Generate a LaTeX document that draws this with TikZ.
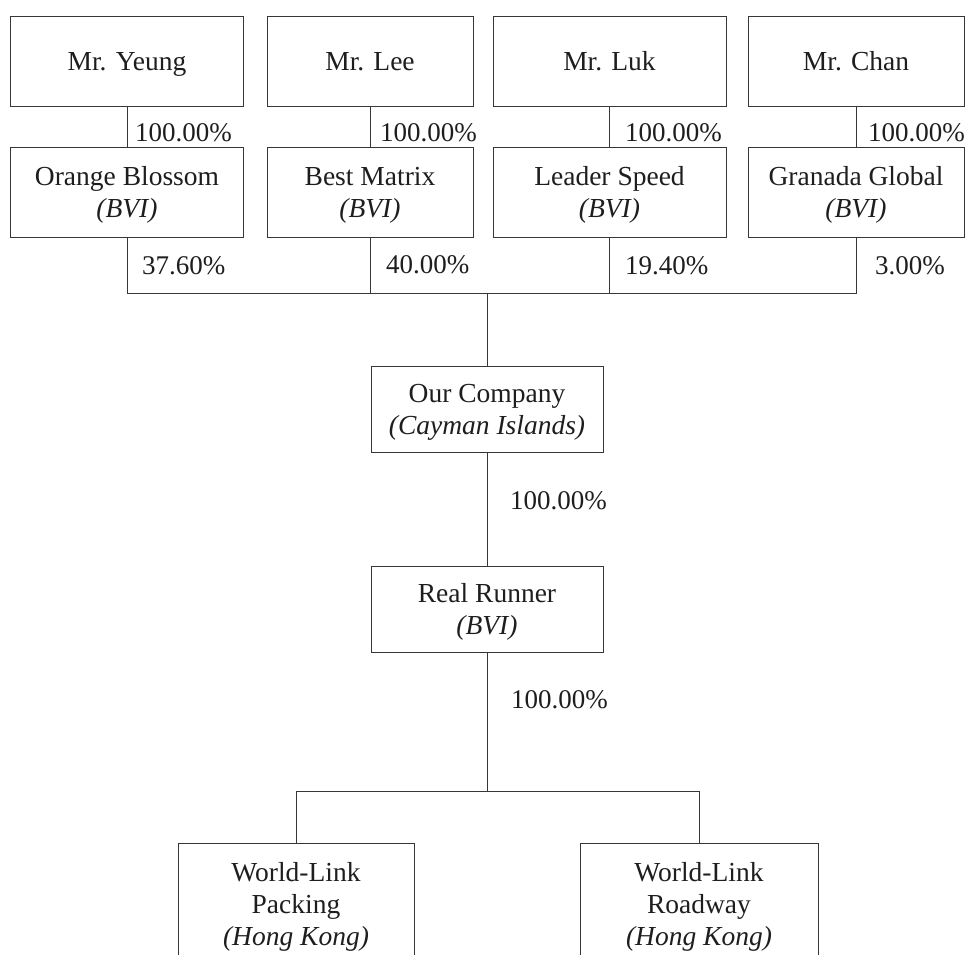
\documentclass[tikz,border=0pt]{standalone}
\usepackage{fontspec}
\setmainfont{Liberation Serif}
\definecolor{linec}{RGB}{55,55,55}
\definecolor{textc}{RGB}{30,30,30}
\tikzset{
  box/.style={draw=linec, line width=1bp, fill=white, inner sep=0pt, align=center,
    text=textc, text depth=0pt, font=\fontsize{27.5bp}{32bp}\selectfont},
  pct/.style={anchor=west, inner sep=0pt, text=textc, font=\fontsize{27bp}{32bp}\selectfont},
  conn/.style={draw=linec, line width=1bp}
}
\begin{document}
\begin{tikzpicture}[x=1bp, y=-1bp]
\useasboundingbox (0,0) rectangle (965,955);
% top row
\node[box, minimum width=232bp, minimum height=90bp] (yeung) at (127,61) {Mr. Yeung};
\node[box, minimum width=206bp, minimum height=90bp] (lee) at (370,61) {Mr. Lee};
\node[box, minimum width=233bp, minimum height=90bp] (luk) at (609.5,61) {Mr. Luk};
\node[box, minimum width=216bp, minimum height=90bp] (chan) at (856,61) {Mr. Chan};
% second row
\node[box, minimum width=232bp, minimum height=90bp] (ob) at (127,192) {Orange Blossom\\\textit{(BVI)}};
\node[box, minimum width=206bp, minimum height=90bp] (bm) at (370,192) {Best Matrix\\\textit{(BVI)}};
\node[box, minimum width=233bp, minimum height=90bp] (ls) at (609.5,192) {Leader Speed\\\textit{(BVI)}};
\node[box, minimum width=216bp, minimum height=90bp] (gg) at (856,192) {Granada Global\\\textit{(BVI)}};
% middle
\node[box, minimum width=232bp, minimum height=86bp] (oc) at (487,409) {Our Company\\\textit{(Cayman Islands)}};
\node[box, minimum width=232bp, minimum height=86bp] (rr) at (487,609) {Real Runner\\\textit{(BVI)}};
% bottom (cut by page edge)
\node[box, minimum width=236bp, minimum height=122bp] (wlp) at (296,904) {World-Link\\Packing\\\textit{(Hong Kong)}};
\node[box, minimum width=238bp, minimum height=122bp] (wlr) at (699,904) {World-Link\\Roadway\\\textit{(Hong Kong)}};
% connectors
\draw[conn] (yeung.south) -- (ob.north);
\draw[conn] (lee.south) -- (bm.north);
\draw[conn] (luk.south) -- (ls.north);
\draw[conn] (chan.south) -- (gg.north);
\coordinate (bus) at (487,293);
\draw[conn] (ob.south) -- (ob.south |- bus) -| (gg.south);
\draw[conn] (bm.south) -- (bm.south |- bus);
\draw[conn] (ls.south) -- (ls.south |- bus);
\draw[conn] (bus) -- (oc.north);
\draw[conn] (oc.south) -- (rr.north);
\coordinate (bus2) at (487,791);
\draw[conn] (rr.south) -- (bus2);
\draw[conn] (wlp.north) -- (wlp.north |- bus2) -| (wlr.north);
% percentages
\node[pct] (p1) at (135,133) {100.00\%};
\node[pct] (p2) at (380,133) {100.00\%};
\node[pct] (p3) at (625,133) {100.00\%};
\node[pct] (p4) at (868,133) {100.00\%};
\node[pct] (q1) at (142,266) {37.60\%};
\node[pct] (q2) at (386,265) {40.00\%};
\node[pct] (q3) at (625,266) {19.40\%};
\node[pct] (q4) at (875,266) {3.00\%};
\node[pct] (r1) at (510,501) {100.00\%};
\node[pct] (r2) at (511,700) {100.00\%};
\end{tikzpicture}
\end{document}
